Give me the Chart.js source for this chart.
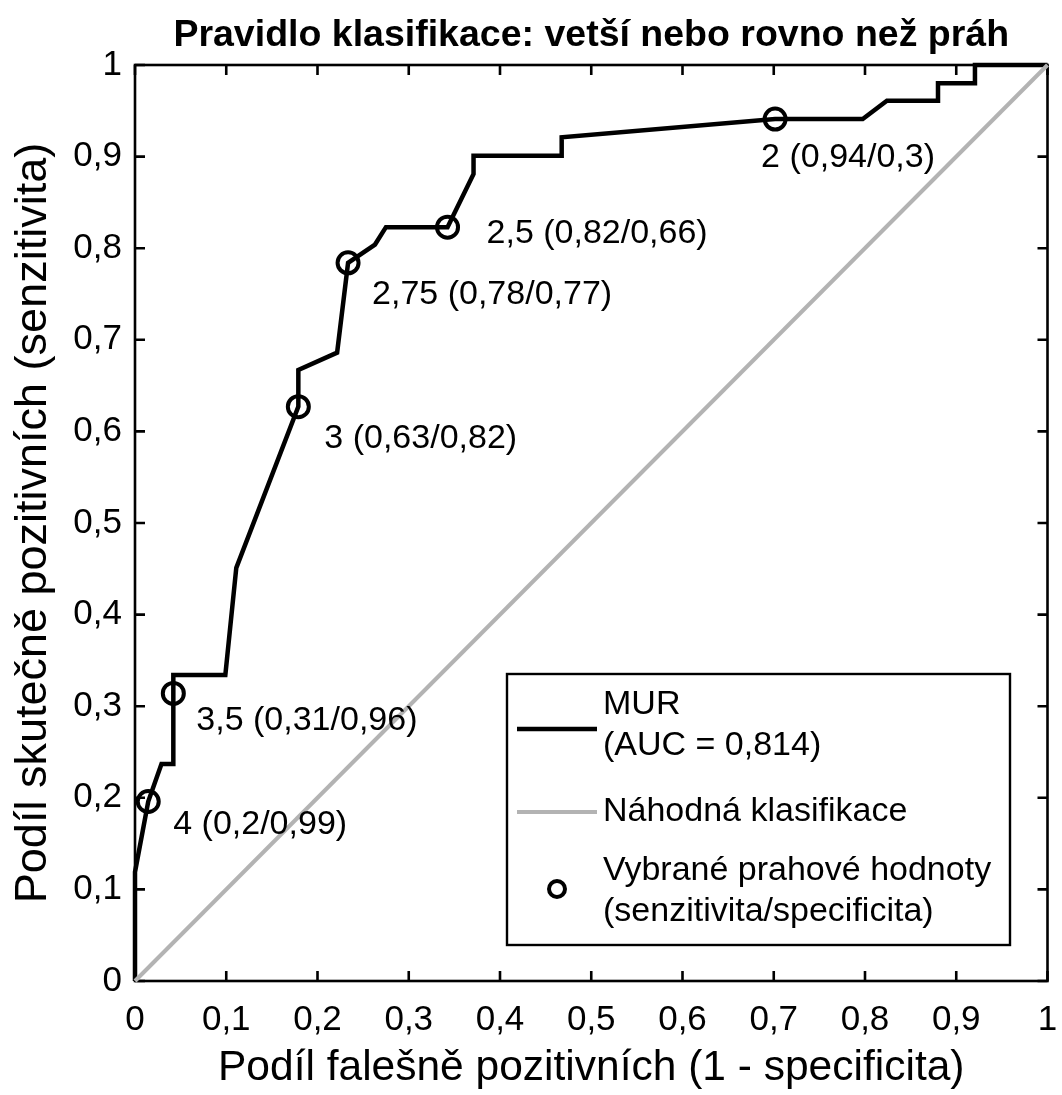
<!DOCTYPE html>
<html>
<head>
<meta charset="utf-8">
<script src="https://cdn.jsdelivr.net/npm/chart.js@4/dist/chart.umd.min.js"></script>
<style>
  html, body { margin: 0; padding: 0; background: #fff; overflow: hidden; }
  #roc { display: block; }
</style>
</head>
<body>
<canvas id="roc" width="1062" height="1095"></canvas>
<script>
// ROC curve of MUR: false positive rate (1 - specificity) and true positive rate
const rocFpr = [0, 0, 0.0145, 0.029, 0.042, 0.042, 0.099, 0.111, 0.179, 0.179, 0.2215, 0.2335, 0.263, 0.275, 0.3425, 0.371, 0.371, 0.4676, 0.4676, 0.7015, 0.7975, 0.824, 0.880, 0.880, 0.9205, 0.9205, 1];
const rocTpr = [0, 0.119, 0.196, 0.237, 0.237, 0.334, 0.334, 0.451, 0.627, 0.667, 0.686, 0.784, 0.804, 0.823, 0.823, 0.881, 0.901, 0.901, 0.921, 0.941, 0.941, 0.961, 0.961, 0.980, 0.980, 1, 1];

// Random classifier reference line
const chanceFpr = [0, 1];
const chanceTpr = [0, 1];

// Selected cut-off values
const cutFpr = [0.0145, 0.042, 0.179, 0.2335, 0.3425, 0.7015];
const cutTpr = [0.196, 0.314, 0.627, 0.784, 0.823, 0.941];
const cutLabels = ['4 (0,2/0,99)', '3,5 (0,31/0,96)', '3 (0,63/0,82)', '2,75 (0,78/0,77)', '2,5 (0,82/0,66)', '2 (0,94/0,3)'];

// Axis tick labels (decimal comma)
const tickLabels = ['0', '0,1', '0,2', '0,3', '0,4', '0,5', '0,6', '0,7', '0,8', '0,9', '1'];

const chartTitle = 'Pravidlo klasifikace: vetší nebo rovno než práh';
const xTitle = 'Podíl falešně pozitivních (1 - specificita)';
const yTitle = 'Podíl skutečně pozitivních (senzitivita)';
const legendLines = [
  ['MUR', '(AUC = 0,814)'],
  ['Náhodná klasifikace'],
  ['Vybrané prahové hodnoty', '(senzitivita/specificita)']
];

const FONT = '"Liberation Sans", Arial, Helvetica, sans-serif';
const GRAY = '#b3b3b3';

const toPoints = (xs, ys) => xs.map((v, i) => ({ x: v, y: ys[i] }));

// Offsets (px) of each cut-off label from its marker
const labelOffsets = [[25, 33], [23, 37], [26, 41], [24, 41], [39, 16], [-14, 48]];

const decor = {
  id: 'decor',
  beforeDatasetsDraw(chart) {
    const { ctx, chartArea: a, scales: { x, y } } = chart;
    ctx.save();
    ctx.strokeStyle = '#000';
    ctx.lineWidth = 2.6;
    ctx.strokeRect(a.left, a.top, a.right - a.left, a.bottom - a.top);
    const tl = 10;
    ctx.beginPath();
    x.ticks.forEach(t => {
      const px = x.getPixelForValue(t.value);
      ctx.moveTo(px, a.bottom); ctx.lineTo(px, a.bottom - tl);
      ctx.moveTo(px, a.top); ctx.lineTo(px, a.top + tl);
    });
    y.ticks.forEach(t => {
      const py = y.getPixelForValue(t.value);
      ctx.moveTo(a.left, py); ctx.lineTo(a.left + tl, py);
      ctx.moveTo(a.right, py); ctx.lineTo(a.right - tl, py);
    });
    ctx.stroke();
    ctx.restore();
  },
  afterDraw(chart) {
    const { ctx, chartArea: a, scales: { x, y } } = chart;
    ctx.save();
    ctx.fillStyle = '#000';

    // title
    ctx.font = 'bold 37.5px ' + FONT;
    ctx.textAlign = 'center';
    ctx.textBaseline = 'alphabetic';
    ctx.fillText(chartTitle, (a.left + a.right) / 2, 46);

    // cut-off labels
    ctx.font = '34px ' + FONT;
    ctx.textAlign = 'left';
    cutLabels.forEach((txt, i) => {
      const px = x.getPixelForValue(cutFpr[i]);
      const py = y.getPixelForValue(cutTpr[i]);
      ctx.fillText(txt, px + labelOffsets[i][0], py + labelOffsets[i][1]);
    });

    // legend
    const L = { left: 507, top: 674, right: 1010, bottom: 945 };
    ctx.fillStyle = '#fff';
    ctx.fillRect(L.left, L.top, L.right - L.left, L.bottom - L.top);
    ctx.strokeStyle = '#000';
    ctx.lineWidth = 2.4;
    ctx.strokeRect(L.left, L.top, L.right - L.left, L.bottom - L.top);

    ctx.lineCap = 'butt';
    ctx.lineWidth = 4.5;
    ctx.strokeStyle = '#000';
    ctx.beginPath(); ctx.moveTo(517, 729); ctx.lineTo(597, 729); ctx.stroke();
    ctx.strokeStyle = GRAY;
    ctx.lineWidth = 4;
    ctx.beginPath(); ctx.moveTo(517, 812); ctx.lineTo(597, 812); ctx.stroke();
    ctx.strokeStyle = '#000';
    ctx.lineWidth = 4;
    ctx.beginPath(); ctx.arc(557, 889, 8, 0, Math.PI * 2); ctx.stroke();

    ctx.fillStyle = '#000';
    ctx.font = '34px ' + FONT;
    ctx.textAlign = 'left';
    ctx.textBaseline = 'middle';
    const rows = [[705, 746], [812], [871, 912]];
    legendLines.forEach((lines, i) => {
      lines.forEach((ln, j) => ctx.fillText(ln, 603, rows[i][j]));
    });
    ctx.restore();
  }
};

const tickFont = { family: FONT, size: 35 };

new Chart(document.getElementById('roc'), {
  type: 'scatter',
  data: {
    datasets: [
      {
        label: 'Vybrané prahové hodnoty',
        data: toPoints(cutFpr, cutTpr),
        showLine: false,
        pointStyle: 'circle',
        pointRadius: 10.5,
        pointBorderWidth: 4,
        pointBorderColor: '#000',
        pointBackgroundColor: 'rgba(0,0,0,0)',
        clip: false,
        order: 0
      },
      {
        label: 'Náhodná klasifikace',
        data: toPoints(chanceFpr, chanceTpr),
        showLine: true,
        borderColor: GRAY,
        borderWidth: 4,
        pointRadius: 0,
        clip: false,
        order: 1
      },
      {
        label: 'MUR',
        data: toPoints(rocFpr, rocTpr),
        showLine: true,
        borderColor: '#000',
        borderWidth: 4.5,
        borderJoinStyle: 'miter',
        pointRadius: 0,
        clip: false,
        order: 2
      }
    ]
  },
  options: {
    responsive: false,
    animation: false,
    devicePixelRatio: 1,
    layout: { padding: { top: 65, right: 9, left: 0, bottom: 0 } },
    plugins: {
      legend: { display: false },
      tooltip: { enabled: false },
      title: { display: false }
    },
    scales: {
      x: {
        type: 'linear', min: 0, max: 1,
        grid: { display: false, drawTicks: true, tickLength: 18 },
        border: { display: false },
        ticks: {
          stepSize: 0.1, autoSkip: false, maxRotation: 0, padding: 0,
          color: '#000', font: tickFont,
          callback: (v, i) => tickLabels[i]
        },
        title: {
          display: true, text: xTitle, color: '#000',
          font: { family: FONT, size: 42.5 },
          padding: { top: 0, bottom: 1 }
        },
        afterFit: s => { s.height = 114; }
      },
      y: {
        type: 'linear', min: 0, max: 1,
        grid: { display: false, drawTicks: true, tickLength: 13 },
        border: { display: false },
        ticks: {
          stepSize: 0.1, autoSkip: false, padding: 0,
          color: '#000', font: tickFont,
          callback: (v, i) => tickLabels[i]
        },
        title: {
          display: true, text: yTitle, color: '#000',
          font: { family: FONT, size: 45 },
          padding: { top: 7, bottom: 0 }
        },
        afterFit: s => { s.width = 135; }
      }
    }
  },
  plugins: [decor]
});
</script>
</body>
</html>
